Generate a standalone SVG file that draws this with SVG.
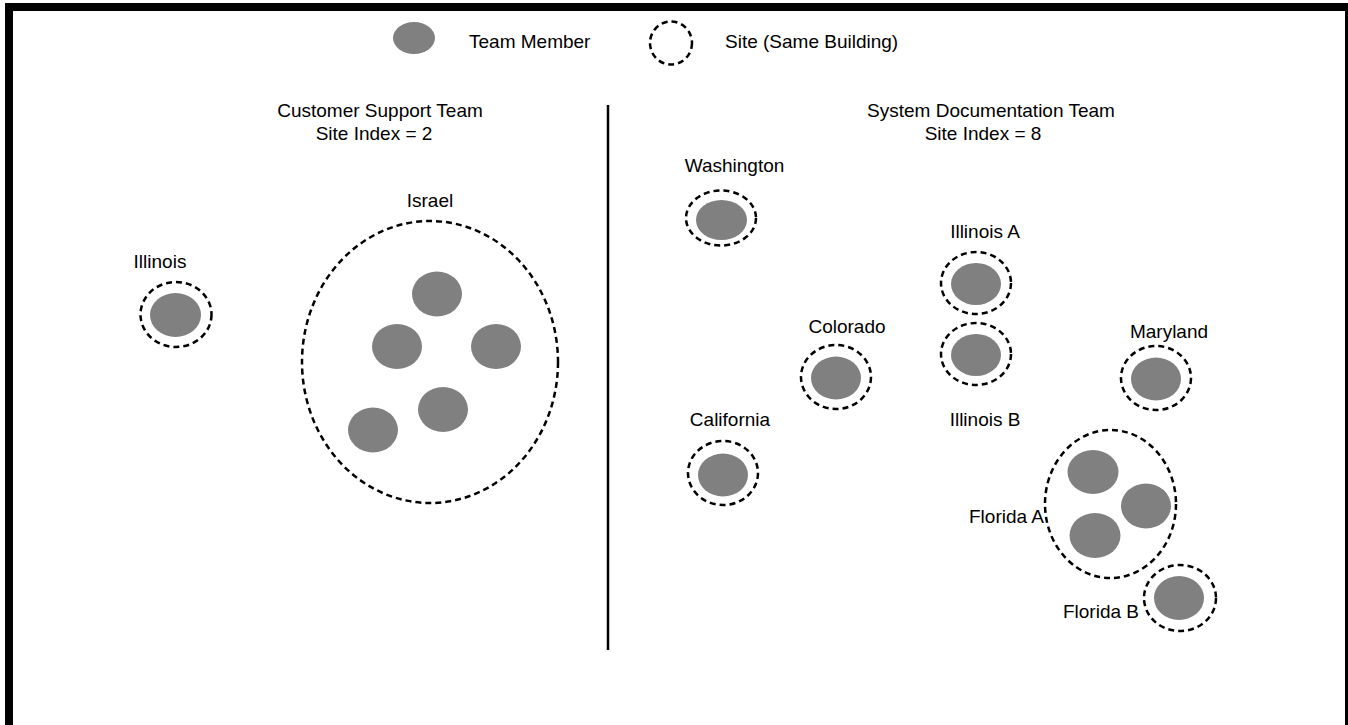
<svg xmlns="http://www.w3.org/2000/svg" width="1348" height="725" viewBox="0 0 1348 725">
  <style>
    text { font-family: "Liberation Sans", Arial, sans-serif; font-size: 19px; fill: #000; }
    .mid { text-anchor: middle; }
    .end { text-anchor: end; }
    .member { fill: #808080; stroke: none; }
    .site { fill: none; stroke: #000; stroke-width: 2.5; stroke-dasharray: 6 4; }
  </style>
  <rect x="0" y="0" width="1348" height="725" fill="#fff"/>
  <!-- outer frame -->
  <rect x="9" y="7" width="1340" height="800" fill="none" stroke="#000" stroke-width="8"/>

  <!-- legend -->
  <g id="legend">
    <ellipse class="member" cx="414" cy="38" rx="21" ry="16"/>
    <text x="469" y="48">Team Member</text>
    <ellipse class="site" cx="671" cy="43" rx="21" ry="21.5"/>
    <text x="725" y="48">Site (Same Building)</text>
  </g>

  <!-- divider between the two teams -->
  <g id="connectors">
    <line x1="608" y1="105" x2="608" y2="650" stroke="#000" stroke-width="2.5"/>
  </g>

  <!-- Customer Support Team -->
  <g id="title-support">
    <text class="mid" x="380" y="117">Customer Support Team</text>
    <text class="mid" x="374" y="140">Site Index = 2</text>
  </g>
  <g id="site-illinois">
    <text class="mid" x="160" y="268">Illinois</text>
    <ellipse class="site" cx="176" cy="314.5" rx="35.5" ry="32.5"/>
    <ellipse class="member" cx="175.5" cy="315" rx="25.5" ry="22"/>
  </g>
  <g id="site-israel">
    <text class="mid" x="430" y="207">Israel</text>
    <ellipse class="site" cx="430" cy="362" rx="128" ry="141"/>
    <ellipse class="member" cx="437" cy="294" rx="25" ry="22.5"/>
    <ellipse class="member" cx="397" cy="346.5" rx="25" ry="22.5"/>
    <ellipse class="member" cx="496" cy="346.5" rx="25" ry="22.5"/>
    <ellipse class="member" cx="443" cy="409.5" rx="25" ry="22.5"/>
    <ellipse class="member" cx="373" cy="430" rx="25" ry="22.5"/>
  </g>

  <!-- System Documentation Team -->
  <g id="title-docs">
    <text class="mid" x="991" y="117">System Documentation Team</text>
    <text class="mid" x="983" y="140">Site Index = 8</text>
  </g>
  <g id="site-washington">
    <text class="mid" x="734.5" y="172">Washington</text>
    <ellipse class="site" cx="721" cy="218" rx="35" ry="27.5"/>
    <ellipse class="member" cx="721.5" cy="220" rx="25.5" ry="20"/>
  </g>
  <g id="site-illinois-a">
    <text class="mid" x="985" y="238">Illinois A</text>
    <ellipse class="site" cx="976" cy="283" rx="35" ry="31"/>
    <ellipse class="member" cx="976" cy="284" rx="25" ry="21"/>
  </g>
  <g id="site-illinois-b">
    <ellipse class="site" cx="976" cy="354" rx="35" ry="31"/>
    <ellipse class="member" cx="976" cy="355" rx="25" ry="21"/>
    <text class="mid" x="985" y="426">Illinois B</text>
  </g>
  <g id="site-colorado">
    <text class="mid" x="847" y="333">Colorado</text>
    <ellipse class="site" cx="836" cy="377" rx="35" ry="32"/>
    <ellipse class="member" cx="836" cy="378" rx="25" ry="21.5"/>
  </g>
  <g id="site-california">
    <text class="mid" x="730" y="426">California</text>
    <ellipse class="site" cx="723" cy="473" rx="35" ry="32"/>
    <ellipse class="member" cx="723" cy="475" rx="25" ry="21.5"/>
  </g>
  <g id="site-maryland">
    <text class="mid" x="1169" y="338">Maryland</text>
    <ellipse class="site" cx="1156" cy="378" rx="35" ry="32"/>
    <ellipse class="member" cx="1156" cy="379" rx="25" ry="21.5"/>
  </g>
  <g id="site-florida-a">
    <ellipse class="site" cx="1110.5" cy="504" rx="65.5" ry="74"/>
    <ellipse class="member" cx="1093" cy="472" rx="25.5" ry="22"/>
    <ellipse class="member" cx="1146" cy="506" rx="25" ry="22.5"/>
    <ellipse class="member" cx="1095" cy="535.5" rx="25.5" ry="22.5"/>
    <text class="end" x="1044" y="523">Florida A</text>
  </g>
  <g id="site-florida-b">
    <ellipse class="site" cx="1180" cy="598" rx="36" ry="33"/>
    <ellipse class="member" cx="1179" cy="598" rx="25" ry="22"/>
    <text class="end" x="1139" y="618">Florida B</text>
  </g>
</svg>
